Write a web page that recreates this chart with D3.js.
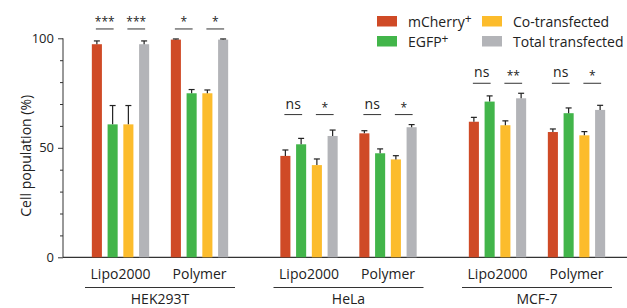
<!DOCTYPE html>
<html>
<head>
<meta charset="utf-8">
<script src="https://cdn.jsdelivr.net/npm/d3@7"></script>
<style>
  body { margin: 0; background: #fff; }
  svg { display: block; font-family: "Open Sans", sans-serif; }
</style>
</head>
<body>
<div id="chart"></div>
<script>
// data
const cellLines = ["HEK293T", "HeLa", "MCF-7"];
const methods = ["Lipo2000", "Polymer"];
const seriesNames = ["mCherry", "EGFP", "Co-transfected", "Total transfected"];
const seriesSup = ["+", "+", "", ""];
const seriesColors = ["#cf4a26", "#42b54a", "#fcbc2c", "#b3b4b8"];

// order: HEK Lipo, HEK Polymer, HeLa Lipo, HeLa Polymer, MCF Lipo, MCF Polymer
const mCherry = [97.3, 99.4, 46.3, 56.6, 61.9, 57.2];
const egfp = [60.7, 74.9, 51.6, 47.5, 71.1, 65.8];
const coTransfected = [60.7, 74.9, 42.1, 44.7, 60.3, 55.7];
const totalTransfected = [97.3, 99.4, 55.4, 59.4, 72.6, 67.3];

const mCherryErr = [1.5, 0.3, 2.7, 1.2, 2.0, 1.4];
const egfpErr = [8.6, 1.7, 2.7, 2.0, 2.6, 2.4];
const coTransfectedErr = [8.6, 1.5, 2.8, 1.7, 2.0, 1.7];
const totalTransfectedErr = [1.5, 0.3, 2.7, 1.2, 2.3, 2.1];

const sigFirstPair = ["***", "*", "ns", "ns", "ns", "ns"];
const sigSecondPair = ["***", "*", "*", "*", "**", "*"];

const yTicks = [0, 50, 100];

const width = 627;
const height = 308;

const allValues = [mCherry, egfp, coTransfected, totalTransfected];
const allErrors = [mCherryErr, egfpErr, coTransfectedErr, totalTransfectedErr];

const svg = d3.select("#chart")
    .append("svg")
    .attr("width", width)
    .attr("height", height);

const y = d3.scaleLinear().domain([0, 100]).range([257.3, 38.3]);

const x0 = d3.scaleBand().domain(cellLines).range([65.75, 631.25]);
const x1 = d3.scaleBand().domain(methods).range([15.25, 173.25]);
const x2 = d3.scaleBand().domain(seriesNames).range([8, 71])
    .paddingInner(0.36).paddingOuter(0.18);

const axisX = 63;

// y axis
const yAxis = svg.append("g")
    .attr("transform", `translate(${axisX},0)`)
    .call(d3.axisLeft(y).tickValues(yTicks).tickSize(5).tickPadding(4));
yAxis.select(".domain").remove();
yAxis.selectAll("text").style("font-size", "13px").attr("fill", "#222")
    .style("font-family", "Open Sans");
yAxis.selectAll("line").attr("stroke", "#333");

const yMinor = svg.append("g")
    .attr("transform", `translate(${axisX},0)`)
    .call(d3.axisLeft(y).tickValues(d3.range(10, 100, 10).filter(d => d !== 50)).tickSize(3).tickFormat(""));
yMinor.select(".domain").remove();
yMinor.selectAll("line").attr("stroke", "#333");

svg.append("line")
    .attr("x1", axisX).attr("x2", axisX)
    .attr("y1", y(100)).attr("y2", y(0))
    .attr("stroke", "#333").attr("stroke-width", 1);

svg.append("line")
    .attr("x1", axisX).attr("x2", width)
    .attr("y1", y(0)).attr("y2", y(0))
    .attr("stroke", "#333").attr("stroke-width", 1.2);

svg.append("text")
    .attr("transform", `translate(31,${(y(0) + y(100)) / 2 + 8}) rotate(-90)`)
    .attr("text-anchor", "middle")
    .style("font-size", "14px")
    .attr("fill", "#222")
    .text("Cell population (%)");

// bars
const groups = [];
cellLines.forEach((c, ci) => {
    methods.forEach((m, mi) => {
        groups.push({ cell: c, method: m, idx: ci * 2 + mi });
    });
});

const g = svg.selectAll(".grp")
    .data(groups)
    .enter()
    .append("g")
    .attr("class", "grp")
    .attr("transform", d => `translate(${x0(d.cell) + x1(d.method)},0)`);

seriesNames.forEach((s, si) => {
    g.append("rect")
        .attr("x", x2(s))
        .attr("width", x2.bandwidth())
        .attr("y", d => y(allValues[si][d.idx]))
        .attr("height", d => y(0) - y(allValues[si][d.idx]))
        .attr("fill", seriesColors[si]);

    const cx = x2(s) + x2.bandwidth() / 2;
    g.append("line")
        .attr("x1", cx).attr("x2", cx)
        .attr("y1", d => y(allValues[si][d.idx]))
        .attr("y2", d => y(allValues[si][d.idx] + allErrors[si][d.idx]))
        .attr("stroke", "#222").attr("stroke-width", 1.2);
    g.append("line")
        .attr("x1", cx - 3).attr("x2", cx + 3)
        .attr("y1", d => y(allValues[si][d.idx] + allErrors[si][d.idx]))
        .attr("y2", d => y(allValues[si][d.idx] + allErrors[si][d.idx]))
        .attr("stroke", "#222").attr("stroke-width", 1.2);
});

// significance marks, height per cell line
const cellTop = cellLines.map((c, ci) => d3.max([0, 1], mi =>
    d3.max(allValues, (v, si) => v[ci * 2 + mi] + allErrors[si][ci * 2 + mi])));

[[0, 1, sigFirstPair], [2, 3, sigSecondPair]].forEach(([a, b, labels]) => {
    const xa = x2(seriesNames[a]) + x2.bandwidth() / 2 - 1;
    const xb = x2(seriesNames[b]) + x2.bandwidth() / 2 + 1;
    const ly = d => y(cellTop[Math.floor(d.idx / 2)]) - 10;
    g.append("line")
        .attr("x1", xa).attr("x2", xb)
        .attr("y1", ly).attr("y2", ly)
        .attr("stroke", "#333").attr("stroke-width", 1);
    g.append("text")
        .attr("x", (xa + xb) / 2)
        .attr("y", d => ly(d) - (labels[d.idx] === "ns" ? 6 : 3))
        .attr("text-anchor", "middle")
        .style("font-size", d => labels[d.idx] === "ns" ? "14px" : "12px")
        .attr("fill", "#222")
        .text(d => labels[d.idx]);
});

// method labels
g.append("text")
    .attr("x", x1.bandwidth() / 2)
    .attr("y", 278.5)
    .attr("text-anchor", "middle")
    .style("font-size", "14px")
    .attr("fill", "#222")
    .text(d => d.method);

// cell line labels with underline
cellLines.forEach(c => {
    const cx = x0(c) + x0.bandwidth() / 2;
    svg.append("line")
        .attr("x1", cx - 75).attr("x2", cx + 75)
        .attr("y1", 287.5).attr("y2", 287.5)
        .attr("stroke", "#333").attr("stroke-width", 1);
    svg.append("text")
        .attr("x", cx)
        .attr("y", 304)
        .attr("text-anchor", "middle")
        .style("font-size", "14px")
        .attr("fill", "#222")
        .text(c);
});

// legend
const legendCols = [377, 482];
const legendRows = [16, 36];
seriesNames.forEach((s, i) => {
    const col = Math.floor(i / 2);
    const row = i % 2;
    const lg = svg.append("g")
        .attr("transform", `translate(${legendCols[col]},${legendRows[row]})`);
    lg.append("rect")
        .attr("width", 20).attr("height", 10.5)
        .attr("fill", seriesColors[i]);
    const t = lg.append("text")
        .attr("x", 31).attr("y", 10.5)
        .style("font-size", "14px")
        .attr("fill", "#222")
        .text(s);
    if (seriesSup[i]) {
        t.append("tspan")
            .attr("dy", -4)
            .style("font-size", "12px")
            .text(seriesSup[i]);
    }
});
</script>
</body>
</html>
